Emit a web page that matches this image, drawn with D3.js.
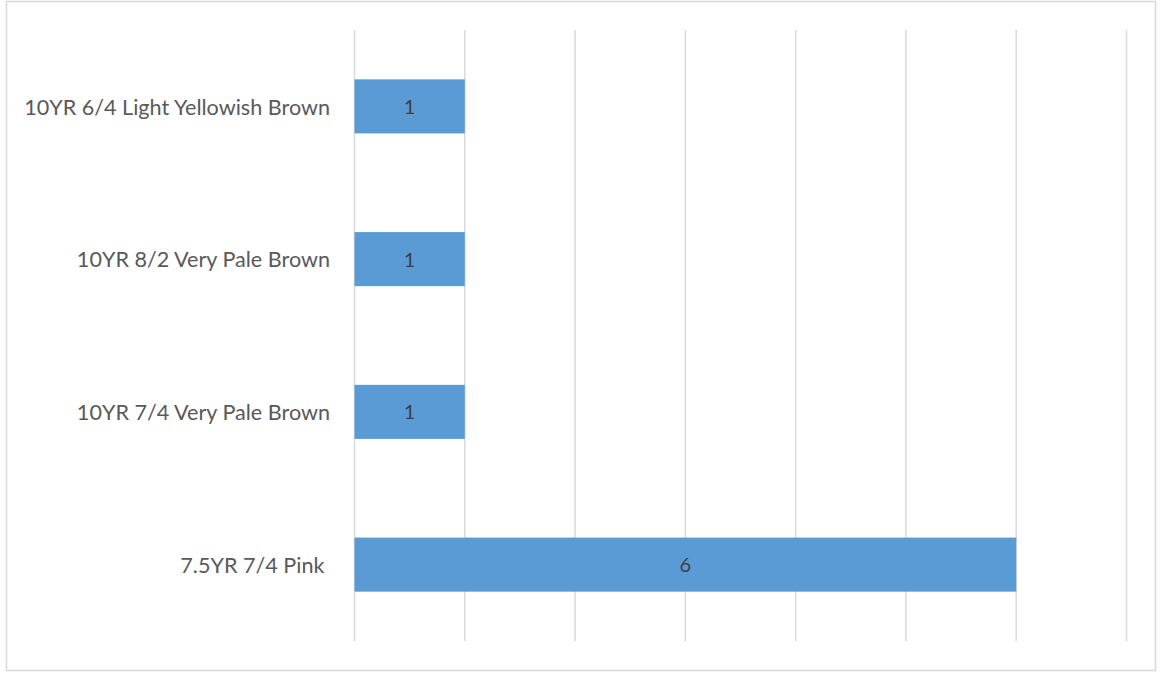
<!DOCTYPE html>
<html><head><meta charset="utf-8">
<script src="https://cdn.jsdelivr.net/npm/d3@7"></script>
<style>body{margin:0;background:#fff}text{font-family:Lato,"Open Sans",sans-serif}</style>
</head><body>
<svg id="c" width="1170" height="677"></svg>
<script>
const categories = ["10YR 6/4 Light Yellowish Brown","10YR 8/2 Very Pale Brown","10YR 7/4 Very Pale Brown","7.5YR 7/4 Pink "];
const values = [1,1,1,6];
const xTicks = [0,1,2,3,4,5,6,7];

const svg = d3.select("#c");
svg.append("rect").attr("x",6.5).attr("y",1.5).attr("width",1149).attr("height",669)
  .attr("fill","#fff").attr("stroke","#d9d9d9").attr("stroke-width",1.5);

const x = d3.scaleLinear().domain([0,7]).range([354.5,1126.5]);
const y = d3.scaleBand().domain(categories).range([30,641]).paddingInner(0.646).paddingOuter(0.323);

svg.append("g").selectAll("line").data(xTicks).join("line")
  .attr("x1",d=>x(d)).attr("x2",d=>x(d)).attr("y1",30).attr("y2",641)
  .attr("stroke","#d9d9d9").attr("stroke-width",1.5);

svg.append("g").selectAll("rect").data(values).join("rect")
  .attr("x",x(0)).attr("y",(d,i)=>y(categories[i]))
  .attr("width",d=>x(d)-x(0)).attr("height",y.bandwidth())
  .attr("fill","#5b9bd5");

svg.append("g").selectAll("text").data(values).join("text")
  .attr("x",d=>(x(d)+x(0))/2).attr("y",(d,i)=>y(categories[i])+y.bandwidth()/2)
  .attr("dy","0.38em").attr("text-anchor","middle")
  .attr("font-size",20).attr("fill","#404040").text(d=>d);

svg.append("g").selectAll("text").data(categories).join("text")
  .attr("x",330).attr("y",d=>y(d)+y.bandwidth()/2).attr("dy","0.38em")
  .attr("text-anchor","end").attr("font-size",21.6).attr("fill","#595959")
  .style("white-space","pre").text(d=>d);
</script>
</body></html>
